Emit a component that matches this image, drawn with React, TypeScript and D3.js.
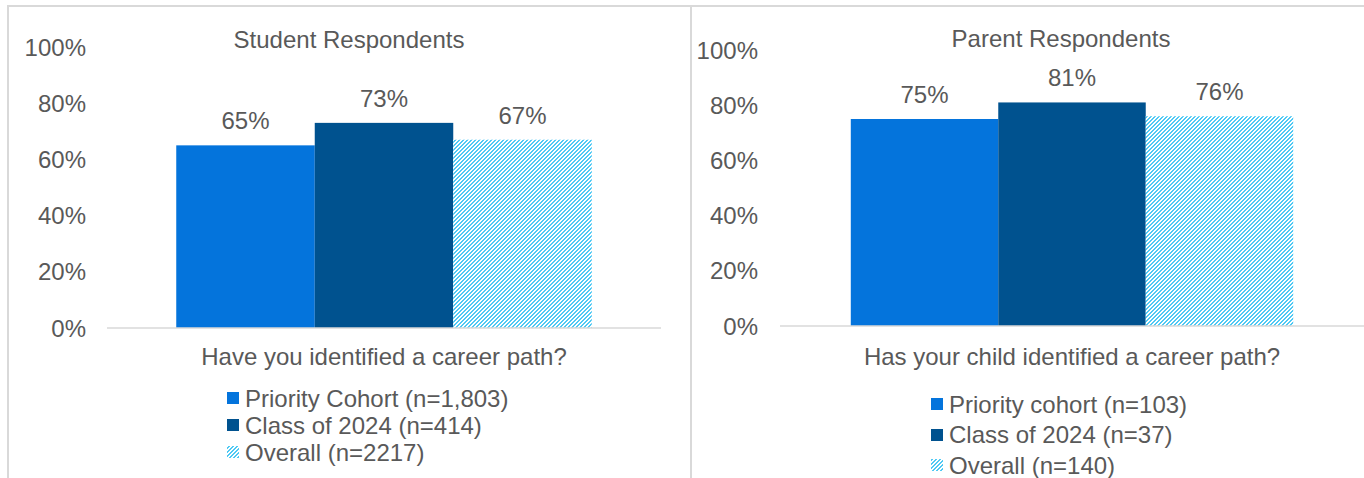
import React from "react";
import * as d3 from "d3";

const seriesNames = ["Priority Cohort", "Class of 2024", "Overall"];
const seriesColors = ["#0474DC", "#00528F", "url(#hatch)"];

const studentCategory = ["Have you identified a career path?"];
const studentValues = [0.65, 0.73, 0.67];
const studentLegend = ["Priority Cohort (n=1,803)", "Class of 2024 (n=414)", "Overall (n=2217)"];

const parentCategory = ["Has your child identified a career path?"];
const parentValues = [0.75, 0.81, 0.76];
const parentLegend = ["Priority cohort (n=103)", "Class of 2024 (n=37)", "Overall (n=140)"];

const yTicks = [0, 0.2, 0.4, 0.6, 0.8, 1.0];

const W = 1364;
const H = 478;
const TEXT = "#595959";
const BORDER = "#D9D9D9";
const HATCH = "#4FC9F4";
const FONT = "'Liberation Sans', Arial, sans-serif";
const FS = 24;
const HALF = 8.5;

// 4x4 "wide upward diagonal" tile: filled pixel columns per row
const hatchRows = [
  [2, 3],
  [1, 2],
  [0, 1],
  [3, 0],
];

type PanelCfg = {
  title: string;
  titleX: number;
  titleY: number;
  category: string[];
  values: number[];
  legend: string[];
  x0: number;
  x1: number;
  yTop: number;
  yBottom: number;
  padOuter: number;
  labelX: number;
  legendX: number;
  legendY0: number;
  legendStep: number;
};

const panels: PanelCfg[] = [
  {
    title: "Student Respondents",
    titleX: 349,
    titleY: 48,
    category: studentCategory,
    values: studentValues,
    legend: studentLegend,
    x0: 107,
    x1: 661,
    yTop: 47,
    yBottom: 328,
    padOuter: 1 / 6,
    labelX: 86,
    legendX: 227,
    legendY0: 398,
    legendStep: 27,
  },
  {
    title: "Parent Respondents",
    titleX: 1061,
    titleY: 47,
    category: parentCategory,
    values: parentValues,
    legend: parentLegend,
    x0: 780,
    x1: 1364,
    yTop: 50,
    yBottom: 326,
    padOuter: 0.16,
    labelX: 758,
    legendX: 931,
    legendY0: 404,
    legendStep: 30.5,
  },
];

function Panel({ p }: { p: PanelCfg }) {
  const x = d3
    .scaleBand<string>()
    .domain(p.category)
    .range([p.x0, p.x1])
    .paddingInner(0)
    .paddingOuter(p.padOuter);
  const xs = d3
    .scaleBand<string>()
    .domain(seriesNames)
    .range([0, x.bandwidth()])
    .padding(0);
  const y = d3.scaleLinear().domain([0, 1]).range([p.yBottom, p.yTop]);
  const fmt = d3.format(".0%");
  const cat = p.category[0];
  const cx = (x(cat) ?? 0) + x.bandwidth() / 2;
  return (
    <g fontFamily={FONT} fill={TEXT}>
      <text x={p.titleX} y={p.titleY} textAnchor="middle" fontSize={FS}>
        {p.title}
      </text>
      {yTicks.map((t) => (
        <text key={t} x={p.labelX} y={y(t) + HALF} textAnchor="end" fontSize={FS}>
          {fmt(t)}
        </text>
      ))}
      {p.values.map((v, i) => {
        const bx = (x(cat) ?? 0) + (xs(seriesNames[i]) ?? 0);
        return (
          <g key={i}>
            <rect
              x={bx}
              y={y(v)}
              width={xs.bandwidth()}
              height={y(0) - y(v)}
              fill={seriesColors[i]}
            />
            <text
              x={bx + xs.bandwidth() / 2}
              y={y(v) - 16}
              textAnchor="middle"
              fontSize={FS}
            >
              {fmt(v)}
            </text>
          </g>
        );
      })}
      <line
        x1={p.x0}
        x2={p.x1}
        y1={y(0)}
        y2={y(0)}
        stroke={BORDER}
        strokeWidth={1.5}
      />
      <text x={cx} y={365} textAnchor="middle" fontSize={FS}>
        {cat}
      </text>
      {p.legend.map((l, i) => {
        const cy = p.legendY0 + i * p.legendStep;
        return (
          <g key={l}>
            <rect
              x={p.legendX}
              y={Math.round(cy - 6)}
              width={12}
              height={12}
              fill={seriesColors[i]}
            />
            <text x={p.legendX + 18} y={cy + HALF} fontSize={FS}>
              {l}
            </text>
          </g>
        );
      })}
    </g>
  );
}

export default function App() {
  return (
    <svg
      width={W}
      height={H}
      style={{ position: "absolute", left: 0, top: 0, background: "#fff" }}
    >
      <defs>
        <pattern id="hatch" patternUnits="userSpaceOnUse" width={4} height={4}>
          <rect width={4} height={4} fill="#ffffff" />
          {hatchRows.map((cols, r) =>
            cols.map((c) => (
              <rect
                key={`${r}-${c}`}
                x={c}
                y={r}
                width={1}
                height={1}
                fill={HATCH}
                shapeRendering="crispEdges"
              />
            ))
          )}
        </pattern>
      </defs>
      <rect width={W} height={H} fill="#fff" />
      <line x1={7} x2={W} y1={6} y2={6} stroke={BORDER} strokeWidth={2} />
      <line x1={8} x2={8} y1={6} y2={H} stroke={BORDER} strokeWidth={2} />
      <line x1={691} x2={691} y1={6} y2={H} stroke={BORDER} strokeWidth={2} />
      {panels.map((p) => (
        <Panel key={p.title} p={p} />
      ))}
    </svg>
  );
}
